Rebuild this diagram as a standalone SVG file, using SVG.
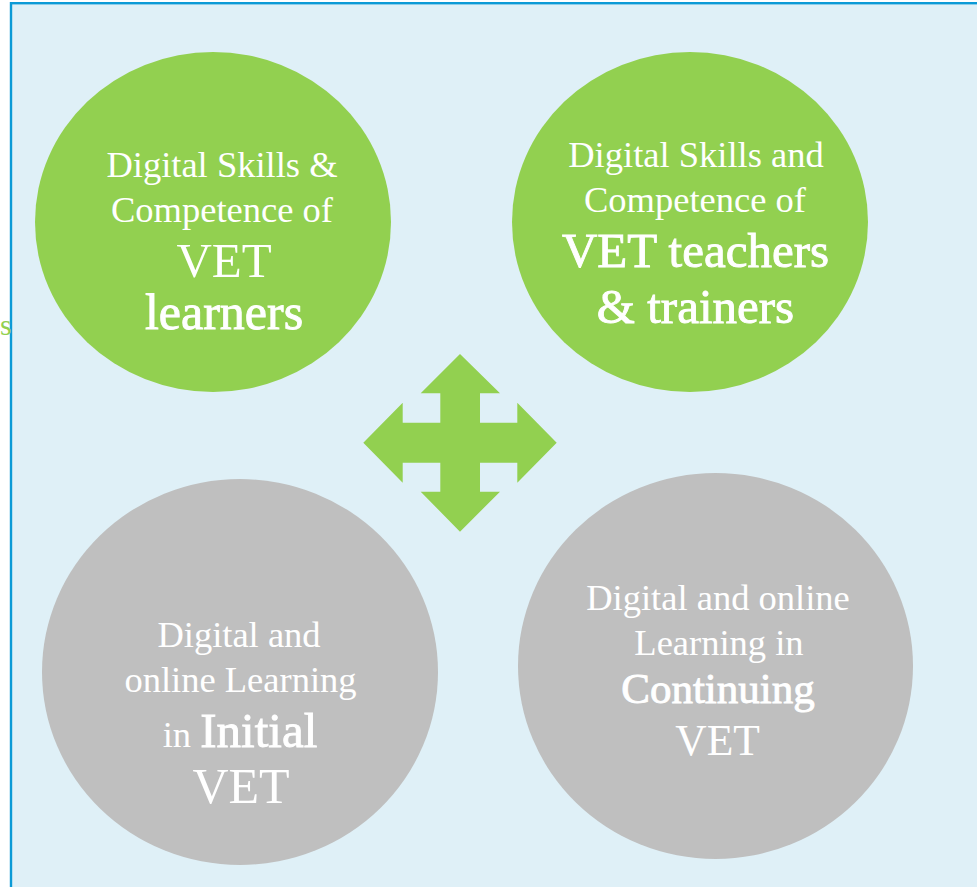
<svg xmlns="http://www.w3.org/2000/svg" width="977" height="887" viewBox="0 0 977 887">
<style>
.t{font-family:"Liberation Serif","Times New Roman",serif;fill:#ffffff;text-anchor:middle}
.s{font-size:36.5px}
.b{stroke:#ffffff;stroke-width:0.9px}
.green{fill:#92d050}
.gray{fill:#bfbfbf}
</style>
<rect x="11" y="3.2" width="980" height="900" fill="#dff0f7" stroke="#0b9ad6" stroke-width="2.4"/>
<text x="0" y="335" font-family="Liberation Serif, serif" font-size="30" fill="#92d050">s</text>
<g id="node-learners">
<ellipse class="green" cx="213" cy="222" rx="178" ry="170"/>
<text class="t s" x="222" y="177">Digital Skills &amp;</text>
<text class="t s" x="222" y="222">Competence of</text>
<text class="t" x="224" y="277" font-size="49">VET</text>
<text class="t b" x="224" y="329" font-size="50">learners</text>
</g>
<g id="node-teachers">
<ellipse class="green" cx="690" cy="222" rx="178" ry="170"/>
<text class="t s" x="696" y="167">Digital Skills and</text>
<text class="t s" x="695" y="212">Competence of</text>
<text class="t b" x="695.5" y="267" font-size="49">VET teachers</text>
<text class="t b" x="695.5" y="323" font-size="49">&amp; trainers</text>
</g>
<g id="node-initial">
<ellipse class="gray" cx="240" cy="672" rx="198" ry="193"/>
<text class="t s" x="239" y="647">Digital and</text>
<text class="t s" x="240.5" y="692">online Learning</text>
<text class="t" x="240" y="747" font-size="36.5">in <tspan class="b" font-size="49">Initial</tspan></text>
<text class="t" x="241" y="803" font-size="50">VET</text>
</g>
<g id="node-continuing">
<ellipse class="gray" cx="715.5" cy="666" rx="197.5" ry="193"/>
<text class="t s" x="718" y="610">Digital and online</text>
<text class="t s" x="719" y="655">Learning in</text>
<text class="t b" x="718" y="703" font-size="43">Continuing</text>
<text class="t" x="717.5" y="755" font-size="43.5">VET</text>
</g>
<g id="connectors">
<polygon class="green" points="460,354 500,393.3 480,393.3 480,422.7 517.3,422.7 517.3,402.7 556.7,442.7 517.3,482.7 517.3,462.7 480,462.7 480,491.7 500,491.7 460,531.7 420.7,491.7 440.3,491.7 440.3,462.7 402.7,462.7 402.7,482.7 363.3,442.7 402.7,402.7 402.7,422.7 440.3,422.7 440.3,393.3 420.7,393.3"/>
</g>
</svg>
